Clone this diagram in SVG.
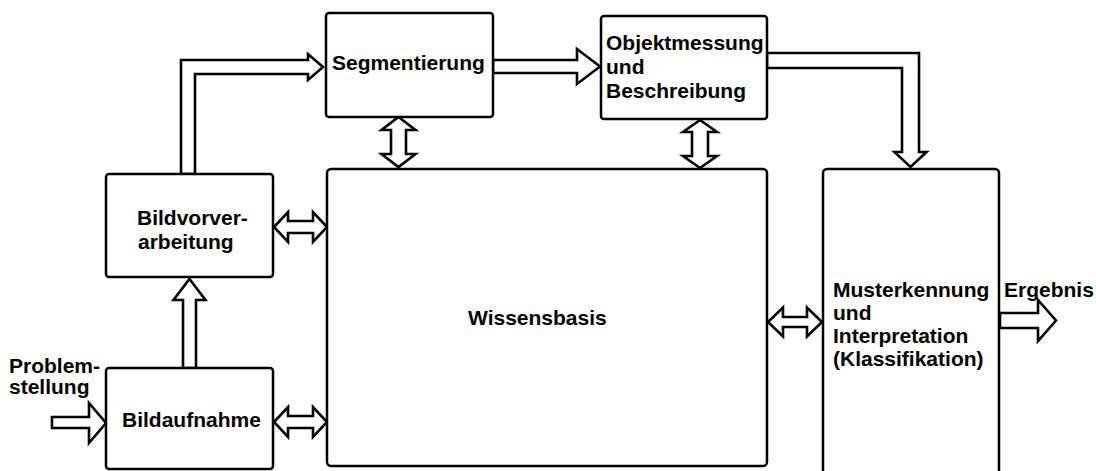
<svg xmlns="http://www.w3.org/2000/svg" width="1096" height="471" viewBox="0 0 1096 471">
<style>
.box{fill:#fff;stroke:#000;stroke-width:2.5}
.arr{fill:#fff;stroke:#000;stroke-width:2.6;stroke-linejoin:miter}
.t{font-family:"Liberation Sans",Arial,sans-serif;font-weight:bold;font-size:21px;fill:#000}
</style>
<rect width="1096" height="471" fill="#fff"/>
<g id="connectors">
<polygon class="arr" points="181,174 181,60 308,60 308,54 323,67 308,80 308,74 195,74 195,174"/>
<polygon class="arr" points="493,60 577,60 577,49 600,66.5 577,84 577,73 493,73"/>
<polygon class="arr" points="767,53 919,53 919,152 926.5,152 910.5,167 894.5,152 902,152 902,68 767,68"/>
<polygon class="arr" points="398.5,117 415.5,130 406,130 406,154 415.5,154 398.5,167 381.5,154 391,154 391,130 381.5,130"/>
<polygon class="arr" points="700,120 717,132 708,132 708,156 717,156 700,168 683,156 692,156 692,132 683,132"/>
<polygon class="arr" points="274,227 288,212 288,221 313,221 313,212 327,227 313,242 313,233 288,233 288,242"/>
<polygon class="arr" points="274,422 288,407 288,416 313,416 313,407 327,422 313,437 313,428 288,428 288,437"/>
<polygon class="arr" points="189.5,279 205.5,300 196,300 196,368 183,368 183,300 173.5,300"/>
<polygon class="arr" points="52,417 89,417 89,403 106,423 89,443 89,428 52,428"/>
<polygon class="arr" points="768,322 783,307.5 783,317 807,317 807,307.5 822,322 807,336.5 807,327 783,327 783,336.5"/>
<polygon class="arr" points="1000,313 1038,313 1038,300 1056,320.5 1038,341 1038,328 1000,328"/>
</g>
<g id="segmentierung">
<rect class="box" x="326" y="13" width="167" height="104" rx="3"/>
<text class="t" x="332" y="70">Segmentierung</text>
</g>
<g id="objektmessung">
<rect class="box" x="601" y="16" width="166" height="103" rx="3"/>
<text class="t" x="606" y="50">Objektmessung</text>
<text class="t" x="606" y="74">und</text>
<text class="t" x="606" y="97.5">Beschreibung</text>
</g>
<g id="bildvorverarbeitung">
<rect class="box" x="106" y="174" width="167" height="103" rx="3"/>
<text class="t" x="137" y="225">Bildvorver-</text>
<text class="t" x="138" y="249">arbeitung</text>
</g>
<g id="bildaufnahme">
<rect class="box" x="106" y="368" width="167" height="101" rx="3"/>
<text class="t" x="122" y="427">Bildaufnahme</text>
</g>
<g id="problemstellung">
<text class="t" x="9" y="372.5">Problem-</text>
<text class="t" x="9" y="394">stellung</text>
</g>
<g id="wissensbasis">
<rect class="box" x="327" y="169" width="440" height="297" rx="4"/>
<text class="t" x="468" y="325">Wissensbasis</text>
</g>
<g id="musterkennung">
<rect class="box" x="823" y="169" width="176" height="320" rx="4"/>
<text class="t" x="833" y="297">Musterkennung</text>
<text class="t" x="833" y="320">und</text>
<text class="t" x="833" y="343">Interpretation</text>
<text class="t" x="833" y="365.5">(Klassifikation)</text>
</g>
<g id="ergebnis">
<text class="t" x="1004" y="297">Ergebnis</text>
</g>
</svg>
